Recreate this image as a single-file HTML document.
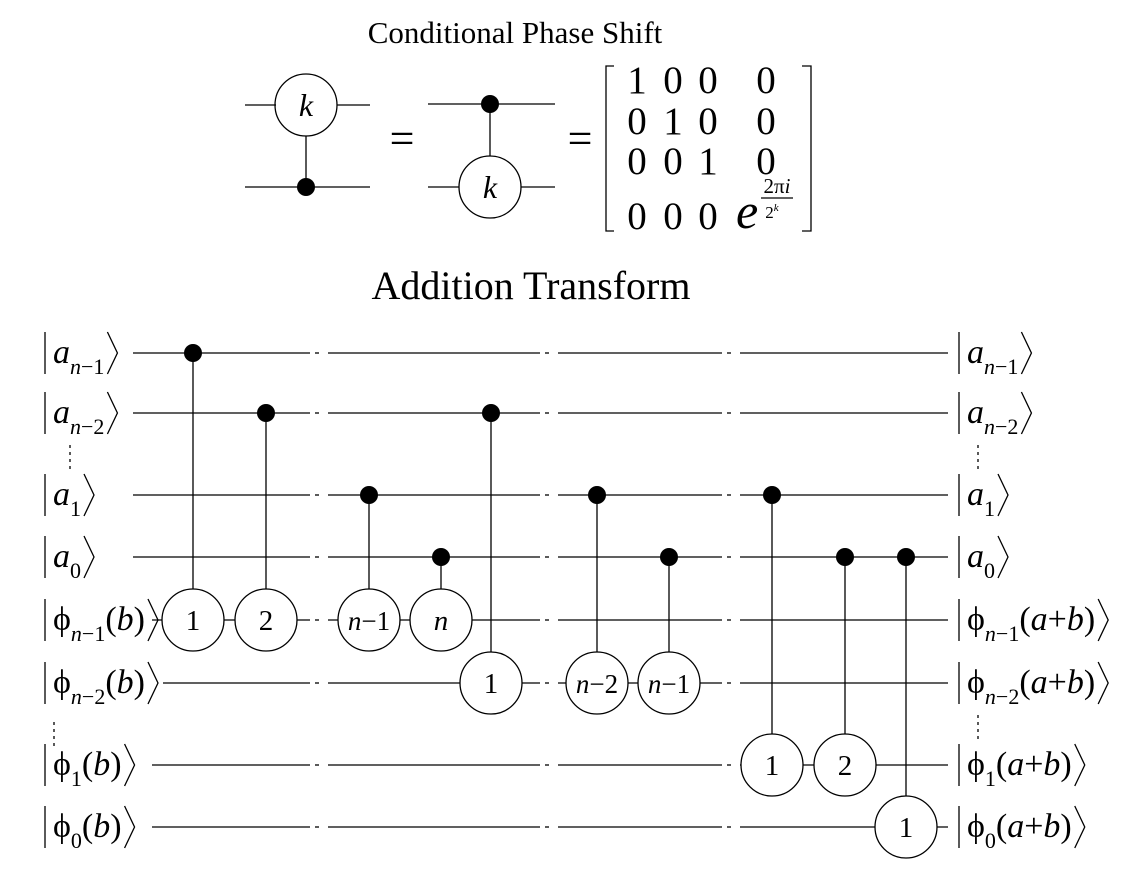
<!DOCTYPE html>
<html><head><meta charset="utf-8"><style>
html,body{margin:0;padding:0;background:#fff;}
svg{display:block;font-family:"Liberation Serif",serif;}
.w{stroke:#000;stroke-width:1.3;fill:none}
.it{font-style:italic}
</style></head><body>
<svg id="c" width="1138" height="880" viewBox="0 0 1138 880" xmlns="http://www.w3.org/2000/svg">
<text x="515" y="43" font-size="31" text-anchor="middle">Conditional Phase Shift</text>
<g>
<line class="w" x1="245" y1="105" x2="276" y2="105"/><line class="w" x1="337" y1="105" x2="370" y2="105"/>
<circle class="w" cx="306" cy="105" r="31"/><text x="306" y="116" font-size="32" text-anchor="middle" class="it">k</text>
<line class="w" x1="306" y1="136" x2="306" y2="187"/><line class="w" x1="245" y1="187" x2="370" y2="187"/>
<circle cx="306" cy="187" r="9"/>
</g>
<text x="402" y="153" font-size="44" text-anchor="middle">=</text>
<g>
<line class="w" x1="428" y1="104" x2="555" y2="104"/><circle cx="490" cy="104" r="9"/>
<line class="w" x1="490" y1="104" x2="490" y2="156"/>
<line class="w" x1="428" y1="187" x2="459" y2="187"/><line class="w" x1="521" y1="187" x2="555" y2="187"/>
<circle class="w" cx="490" cy="187" r="31"/><text x="490" y="198" font-size="32" text-anchor="middle" class="it">k</text>
</g>
<text x="580" y="153" font-size="44" text-anchor="middle">=</text>
<g font-size="39">
<polyline class="w" points="614,66 606,66 606,231 614,231"/>
<polyline class="w" points="802,66 811,66 811,231 802,231"/>
<text x="637" y="93" text-anchor="middle">1</text><text x="673" y="93" text-anchor="middle">0</text><text x="708" y="93" text-anchor="middle">0</text><text x="766" y="93" text-anchor="middle">0</text>
<text x="637" y="134" text-anchor="middle">0</text><text x="673" y="134" text-anchor="middle">1</text><text x="708" y="134" text-anchor="middle">0</text><text x="766" y="134" text-anchor="middle">0</text>
<text x="637" y="174" text-anchor="middle">0</text><text x="673" y="174" text-anchor="middle">0</text><text x="708" y="174" text-anchor="middle">1</text><text x="766" y="174" text-anchor="middle">0</text>
<text x="637" y="229" text-anchor="middle">0</text><text x="673" y="229" text-anchor="middle">0</text><text x="708" y="229" text-anchor="middle">0</text>
<text x="736" y="228" font-size="50" class="it">e</text>
<text x="777" y="193" font-size="21" text-anchor="middle">2π<tspan class="it">i</tspan></text>
<line class="w" x1="761" y1="198" x2="793" y2="198" stroke-width="1.2"/>
<text x="772" y="218" font-size="17" text-anchor="middle">2<tspan font-size="11" dy="-7" class="it">k</tspan></text>
</g>
<text x="531" y="299" font-size="40" text-anchor="middle">Addition Transform</text>
<g id="circ"></g>
</svg>
<script>
const NS="http://www.w3.org/2000/svg";
const g=document.getElementById('circ');
function el(t,a,p){const e=document.createElementNS(NS,t);for(const k in a)e.setAttribute(k,a[k]);(p||g).appendChild(e);return e;}
const wireY=[353,413,495,557,620,683,765,827];
const wireStart=[133,133,133,133,152,163,152,152];
const breaks=[310,540,722];
const circles=[[193,4,'1'],[266,4,'2'],[369,4,'n−1'],[441,4,'n'],[491,5,'1'],[597,5,'n−2'],[669,5,'n−1'],[772,6,'1'],[845,6,'2'],[906,7,'1']];
const dots=[[193,0],[266,1],[369,2],[441,3],[491,1],[597,2],[669,3],[772,2],[845,3],[906,3]];
const R=31;
wireY.forEach((y,i)=>{
  const w=el('g',{});
  
  
  let x=wireStart[i];
  breaks.forEach(b=>{
    el('line',{class:'w',x1:x,y1:y,x2:b,y2:y},w);
    el('line',{class:'w',x1:b+5,y1:y,x2:b+9,y2:y},w);
    x=b+18;
  });
  el('line',{class:'w',x1:x,y1:y,x2:948,y2:y},w);
});
dots.forEach((d,k)=>{
  const c=circles[k];
  const y0=wireY[d[1]], y1=wireY[c[1]]-R;
  el('line',{class:'w',x1:d[0],y1:y0,x2:d[0],y2:y1});
  const dt=el('circle',{cx:d[0],cy:y0,r:9});
  
  
});
circles.forEach((c,k)=>{
  const y=wireY[c[1]];
  const cg=el('g',{});
  
  
  el('circle',{cx:c[0],cy:y,r:R,fill:'#fff',stroke:'#000','stroke-width':1.3},cg);
  const t=el('text',{x:c[0],y:y+10,'font-size':c[2].length>1?27:29,'text-anchor':'middle'},cg);
  if(c[2].startsWith('n')){t.innerHTML='<tspan font-style="italic">n</tspan>'+c[2].slice(1);}else t.textContent=c[2];
});
const leftLab=[['a','n−1',''],['a','n−2',''],['a','1',''],['a','0',''],['φ','n−1','(b)'],['φ','n−2','(b)'],['φ','1','(b)'],['φ','0','(b)']];
const rightLab=[['a','n−1',''],['a','n−2',''],['a','1',''],['a','0',''],['φ','n−1','(a+b)'],['φ','n−2','(a+b)'],['φ','1','(a+b)'],['φ','0','(a+b)']];
function label(x,y,L,side,i){
  const lg=el('g',{});
  
  
  el('line',{class:'w',x1:x,y1:y-21,x2:x,y2:y+21},lg);
  const t=el('text',{x:x+8,y:y+10,'font-size':34},lg);
  const main=L[0]==='a'?'<tspan font-style="italic">a</tspan>':'<tspan font-style="normal">ϕ</tspan>';
  let sub=L[1].startsWith('n')?'<tspan font-style="italic">n</tspan>'+L[1].slice(1):L[1];
  let tail=L[2].replace(/([ab])/g,'<tspan font-style="italic">$1</tspan>');
  t.innerHTML=main+'<tspan font-size="22" dy="11">'+sub+'</tspan><tspan dy="-11">'+tail+'</tspan>';
  const w=t.getComputedTextLength();
  const ax=x+8+w+3;
  el('polyline',{class:'w',points:`${ax},${y-21} ${ax+10},${y} ${ax},${y+21}`},lg);
}
wireY.forEach((y,i)=>{label(45,y,leftLab[i],'left',i);label(959,y,rightLab[i],'right',i);});
[[70,445,472],[54,722,748],[978,445,472],[978,715,742]].forEach((e,k)=>{
  const l=el('line',{x1:e[0],y1:e[1],x2:e[0],y2:e[2],stroke:'#000','stroke-width':1.3,'stroke-dasharray':'3,4'});
  
  
});
</script>
</body></html>
